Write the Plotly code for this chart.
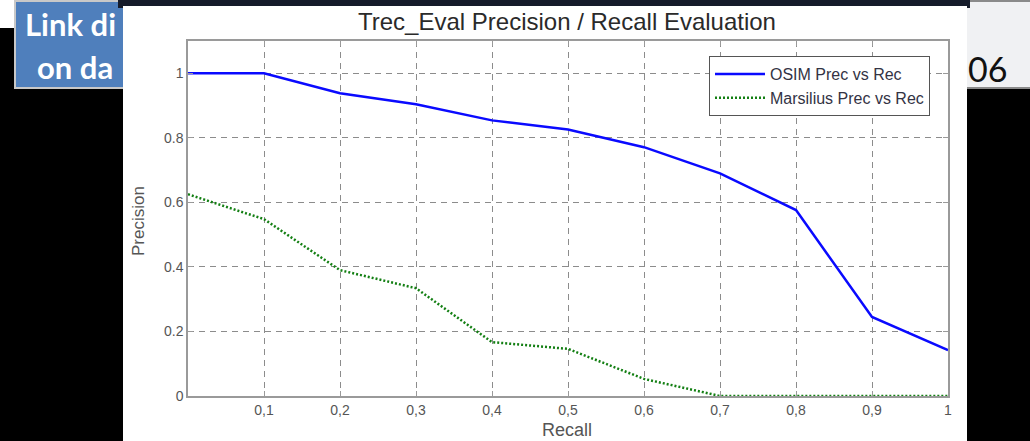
import plotly.graph_objects as go

# ---- data ----
recall = [0.0, 0.1, 0.2, 0.3, 0.4, 0.5, 0.6, 0.7, 0.8, 0.9, 1.0]
osim_precision = [1.0, 1.0, 0.938, 0.904, 0.854, 0.826, 0.771, 0.69, 0.576, 0.245, 0.142]
marsilius_precision = [0.625, 0.548, 0.39, 0.334, 0.167, 0.146, 0.053, 0.0, 0.0, 0.0, 0.0]
x_tickvals = [0.1, 0.2, 0.3, 0.4, 0.5, 0.6, 0.7, 0.8, 0.9, 1.0]
x_ticktext = ["0,1", "0,2", "0,3", "0,4", "0,5", "0,6", "0,7", "0,8", "0,9", "1"]
y_tickvals = [0, 0.2, 0.4, 0.6, 0.8, 1.0]
y_ticktext = ["0", "0.2", "0.4", "0.6", "0.8", "1"]

W, H = 1030, 441
L, R, T, B = 188, 948, 41, 396  # plot area in pixels


def px(p):
    return (p - L) / (R - L)


def py(p):
    return (B - p) / (B - T)


FONT = "Liberation Sans, Arial, sans-serif"

fig = go.Figure()
fig.add_trace(go.Scatter(x=recall, y=osim_precision, mode="lines",
                         name="OSIM Prec vs Rec",
                         line=dict(color="#0a0aff", width=2.5)))
fig.add_trace(go.Scatter(x=recall, y=marsilius_precision, mode="lines",
                         name="Marsilius Prec vs Rec",
                         line=dict(color="#137f13", width=2.5, dash="2px,2px")))

shapes = [
    # white top-left corner of slide
    dict(type="rect", xref="paper", yref="paper", x0=px(0), x1=px(16), y0=py(0), y1=py(28),
         fillcolor="white", line=dict(width=0), layer="below"),
    # blue title box
    dict(type="rect", xref="paper", yref="paper", x0=px(15), x1=px(220), y0=py(1), y1=py(88),
         fillcolor="#4f7fbc", line=dict(color="#c8c8c8", width=2), layer="below"),
    # right box
    dict(type="rect", xref="paper", yref="paper", x0=px(930), x1=px(1031), y0=py(1), y1=py(88),
         fillcolor="#f0f1f3", line=dict(color="#8a8a8a", width=2), layer="below"),
    # top dark bar of window
    dict(type="rect", xref="paper", yref="paper", x0=px(118), x1=px(970), y0=py(0), y1=py(8),
         fillcolor="#151b2a", line=dict(width=0), layer="below"),
    # white chart window
    dict(type="rect", xref="paper", yref="paper", x0=px(123), x1=px(967), y0=py(6), y1=py(442),
         fillcolor="white", line=dict(width=0), layer="below"),
]

annotations = [
    dict(text="<b>Link di</b>", xref="paper", yref="paper", x=px(23), y=py(24),
         xanchor="left", yanchor="middle", showarrow=False,
         font=dict(family="Lato, Noto Sans, sans-serif", size=31, color="white")),
    dict(text="<b>on da</b>", xref="paper", yref="paper", x=px(35), y=py(67),
         xanchor="left", yanchor="middle", showarrow=False,
         font=dict(family="Lato, Noto Sans, sans-serif", size=31, color="white")),
    dict(text="06", xref="paper", yref="paper", x=px(966), y=py(68),
         xanchor="left", yanchor="middle", showarrow=False,
         font=dict(family="Lato, Noto Sans, sans-serif", size=34, color="#111111")),
    dict(text="Precision", xref="paper", yref="paper", x=px(138), y=py(221),
         xanchor="center", yanchor="middle", showarrow=False, textangle=-90,
         font=dict(family=FONT, size=17, color="#555555")),
    dict(text="Recall", xref="paper", yref="paper", x=px(567), y=py(430),
         xanchor="center", yanchor="middle", showarrow=False,
         font=dict(family=FONT, size=18, color="#555555")),
    dict(text="Trec_Eval Precision / Recall Evaluation", xref="paper", yref="paper",
         x=px(567), y=py(21), xanchor="center", yanchor="middle", showarrow=False,
         font=dict(family=FONT, size=24, color="#2a2a2a")),
]

axis_common = dict(
    showline=True, linecolor="#9a9a9a", linewidth=1.5, mirror="ticks",
    ticks="inside", ticklen=5, tickcolor="#9a9a9a",
    showgrid=True, gridcolor="#8c8c8c", gridwidth=1, griddash="6px,5px",
    zeroline=False, tickfont=dict(family=FONT, size=14, color="#555555"),
)

fig.update_layout(
    width=W, height=H,
    margin=dict(l=L, r=W - R, t=T, b=H - B),
    paper_bgcolor="black", plot_bgcolor="white",
    shapes=shapes, annotations=annotations,
    xaxis=dict(range=[0, 1], tickvals=x_tickvals, ticktext=x_ticktext, **axis_common),
    yaxis=dict(range=[0, 1.1], tickvals=y_tickvals, ticktext=y_ticktext, **axis_common),
    legend=dict(x=px(930), y=py(56), xanchor="right", yanchor="top",
                bgcolor="white", bordercolor="#555555", borderwidth=1,
                font=dict(family=FONT, size=16, color="#333344"),
                itemwidth=50, tracegroupgap=0),
    showlegend=True,
)

fig.write_html("out.html", config={"displayModeBar": False},
               post_script="document.body.style.margin='0';document.body.style.overflow='hidden';")
